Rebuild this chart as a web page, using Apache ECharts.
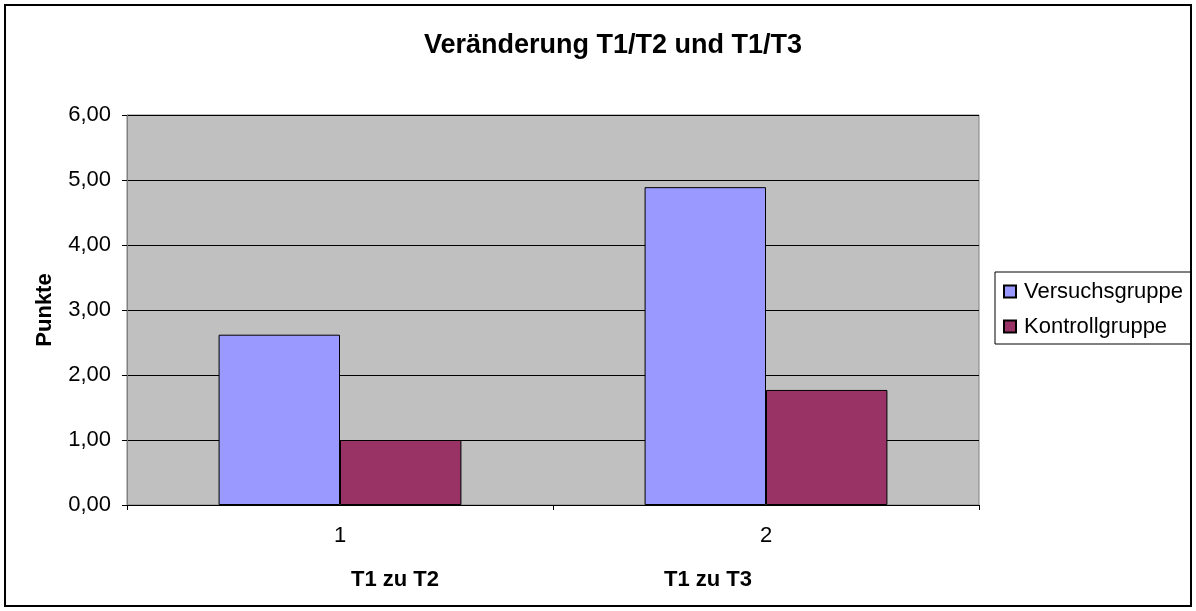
<!DOCTYPE html>
<html>
<head>
<meta charset="utf-8">
<title>Veränderung T1/T2 und T1/T3</title>
<style>
html,body{margin:0;padding:0;background:#fff;}
#main{width:1196px;height:611px;}
</style>
</head>
<body>
<div id="main"></div>
<script src="https://cdn.jsdelivr.net/npm/echarts@6/dist/echarts.min.js"></script>
<script>
var categories = ['1', '2'];
var groupNames = ['T1 zu T2', 'T1 zu T3'];
var versuch = [2.62, 4.89];
var kontroll = [1.00, 1.77];
var yTicks = [0, 1, 2, 3, 4, 5, 6];

var font = '"Liberation Sans", Arial, sans-serif';
var myChart = echarts.init(document.getElementById('main'));

var option = {
  animation: false,
  backgroundColor: '#fff',
  textStyle: {fontFamily: font},
  title: {
    text: 'Veränderung T1/T2 und T1/T3',
    left: 608,
    textAlign: 'center',
    top: 27,
    textStyle: {fontFamily: font, fontSize: 27, fontWeight: 'bold', color: '#000'}
  },
  legend: {
    orient: 'vertical',
    left: 995,
    top: 272,
    padding: [8, 8, 6, 8],
    itemGap: 12,
    itemWidth: 12,
    itemHeight: 12,
    icon: 'rect',
    borderColor: '#000',
    borderWidth: 1,
    textStyle: {fontFamily: font, fontSize: 22, lineHeight: 23, color: '#000', padding: [0, 0, 0, 3]},
    data: ['Versuchsgruppe', 'Kontrollgruppe']
  },
  grid: {
    left: 127, right: 217, top: 115, bottom: 106,
    show: true,
    backgroundColor: '#c0c0c0',
    borderColor: '#808080',
    borderWidth: 1
  },
  xAxis: {
    type: 'category',
    data: categories,
    axisLine: {lineStyle: {color: '#000', width: 1}},
    axisTick: {show: true, length: 5, lineStyle: {color: '#000'}},
    axisLabel: {fontFamily: font, fontSize: 22, color: '#000', margin: 20}
  },
  yAxis: {
    type: 'value',
    min: yTicks[0],
    max: yTicks[yTicks.length - 1],
    interval: 1,
    name: 'Punkte',
    nameLocation: 'middle',
    nameGap: 71,
    nameRotate: 90,
    nameTextStyle: {fontFamily: font, fontSize: 22, fontWeight: 'bold', color: '#000'},
    axisLine: {show: true, lineStyle: {color: '#808080'}},
    axisTick: {show: true, length: 5, lineStyle: {color: '#000'}},
    axisLabel: {
      fontFamily: font, fontSize: 22, color: '#000', margin: 16,
      formatter: function (v) { return v.toFixed(2).replace('.', ','); }
    },
    splitLine: {show: true, lineStyle: {color: '#000', width: 1}}
  },
  series: [
    {
      name: 'Versuchsgruppe',
      type: 'bar',
      data: versuch,
      barGap: '0%',
      barCategoryGap: '43%',
      itemStyle: {color: '#9999ff', borderColor: '#000', borderWidth: 1}
    },
    {
      name: 'Kontrollgruppe',
      type: 'bar',
      data: kontroll,
      itemStyle: {color: '#993366', borderColor: '#000', borderWidth: 1}
    }
  ],
  graphic: [
    {
      type: 'rect',
      shape: {x: 5, y: 5, width: 1186, height: 601},
      style: {fill: 'none', stroke: '#000', lineWidth: 2},
      silent: true
    },
    {
      type: 'text', x: 395, y: 580,
      style: {text: groupNames[0], font: 'bold 22px ' + font, fill: '#000', align: 'center', verticalAlign: 'middle'}
    },
    {
      type: 'text', x: 708, y: 580,
      style: {text: groupNames[1], font: 'bold 22px ' + font, fill: '#000', align: 'center', verticalAlign: 'middle'}
    }
  ]
};
myChart.setOption(option);
</script>
</body>
</html>
